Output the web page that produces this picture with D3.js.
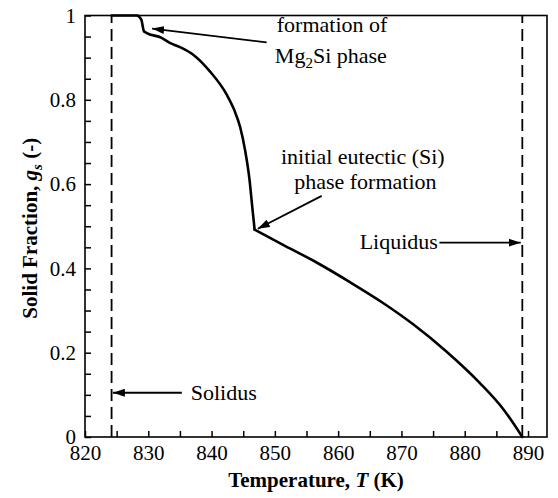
<!DOCTYPE html>
<html>
<head>
<meta charset="utf-8">
<script src="https://cdn.jsdelivr.net/npm/d3@7"></script>
<style>
  body { margin: 0; background: #fff; }
  svg text { font-family: "Liberation Serif", "Times New Roman", Times, serif; fill: #000; }
</style>
</head>
<body>
<div id="chart"></div>
<script>
// Solid fraction curve
const temperature = [824.2, 828.2, 828.9, 829.3, 829.7, 832.1, 833.4, 835.0, 837.1, 839.7,
  842.4, 843.6, 844.5, 845.3, 846.0, 846.4, 846.8, 851.3, 856.6, 861.8,
  867.1, 871.8, 877.1, 882.4, 886.1, 889.1];
const solidFraction = [1.0, 1.0, 0.99, 0.963, 0.959, 0.947, 0.935, 0.925, 0.907, 0.868,
  0.812, 0.775, 0.736, 0.68, 0.61, 0.55, 0.492, 0.456, 0.414, 0.368,
  0.318, 0.268, 0.203, 0.128, 0.066, 0.0];
// the eutectic kink, where the curve bends sharply
const kinkT = 846.8;

const solidusT = 824.2;
const liquidusT = 889.1;

const xTicks = [820, 830, 840, 850, 860, 870, 880, 890];
const xMinorTicks = [825, 835, 845, 855, 865, 875, 885];
const yTicks = [0, 0.2, 0.4, 0.6, 0.8, 1];
const yTickLabels = ["0", "0.2", "0.4", "0.6", "0.8", "1"];
const yMinorTicks = [0.05, 0.1, 0.15, 0.25, 0.3, 0.35, 0.45, 0.5, 0.55, 0.65, 0.7, 0.75, 0.85, 0.9, 0.95];

const FONT = "'Liberation Serif', 'Times New Roman', Times, serif";

const W = 558, H = 498;
const margin = { top: 15.5, right: 11, bottom: 61, left: 85 };
const width = W - margin.left - margin.right;
const height = H - margin.top - margin.bottom;

const svg = d3.select("#chart").append("svg")
  .attr("width", W).attr("height", H)
  .attr("font-family", FONT);

// arrow head
svg.append("defs").append("marker")
  .attr("id", "head")
  .attr("viewBox", "0 0 12 8")
  .attr("refX", 12).attr("refY", 4)
  .attr("markerWidth", 12).attr("markerHeight", 8)
  .attr("markerUnits", "userSpaceOnUse")
  .attr("orient", "auto")
  .append("path").attr("d", "M0,0 L12,4 L0,8 Z").attr("fill", "#000");

const g = svg.append("g").attr("transform", `translate(${margin.left},${margin.top})`);

const x = d3.scaleLinear().domain([820, 893]).range([0, width]);
const y = d3.scaleLinear().domain([0, 1]).range([height, 0]);

// axes, ticks pointing inwards
g.append("g").attr("transform", `translate(0,${height})`)
  .call(d3.axisBottom(x).tickValues(xTicks).tickSize(-6).tickPadding(8).tickFormat(d3.format("d")));
g.append("g").attr("transform", `translate(0,${height})`)
  .call(d3.axisBottom(x).tickValues(xMinorTicks).tickSize(-6).tickFormat(""));
g.append("g")
  .call(d3.axisLeft(y).tickValues(yTicks).tickSize(-6).tickPadding(9).tickFormat((d, i) => yTickLabels[i]));
g.append("g")
  .call(d3.axisLeft(y).tickValues(yMinorTicks).tickSize(-6).tickFormat(""));

g.selectAll(".domain").remove();
g.selectAll("g").attr("font-family", FONT).attr("font-size", 21);
g.selectAll(".tick line").attr("stroke", "#000").attr("stroke-width", 1.5);
g.selectAll(".tick text").attr("font-family", FONT).style("font-size", "21px");

// frame
g.append("rect")
  .attr("width", width).attr("height", height)
  .attr("fill", "none").attr("stroke", "#000").attr("stroke-width", 1.6);

// solidus / liquidus
[solidusT, liquidusT].forEach(t => {
  g.append("line")
    .attr("x1", x(t)).attr("x2", x(t))
    .attr("y1", y(0)).attr("y2", y(1))
    .attr("stroke", "#000").attr("stroke-width", 1.8)
    .attr("stroke-dasharray", "12,6");
});

// curve, split at the kink so the corner stays sharp
const pts = temperature.map((t, i) => [t, solidFraction[i]]);
const segments = [pts.filter(d => d[0] <= kinkT), pts.filter(d => d[0] >= kinkT)];
const line = d3.line().x(d => x(d[0])).y(d => y(d[1])).curve(d3.curveMonotoneX);
g.selectAll(".curve")
  .data(segments)
  .enter()
  .append("path")
  .attr("class", "curve")
  .attr("fill", "none").attr("stroke", "#000").attr("stroke-width", 2.6)
  .attr("stroke-linejoin", "round").attr("stroke-linecap", "round")
  .attr("d", line);

// annotations
function arrow(t1, g1, t2, g2) {
  g.append("line")
    .attr("x1", x(t1)).attr("y1", y(g1))
    .attr("x2", x(t2)).attr("y2", y(g2))
    .attr("stroke", "#000").attr("stroke-width", 1.8)
    .attr("marker-end", "url(#head)");
}
function label(t, gs, anchor) {
  return g.append("text")
    .attr("x", x(t)).attr("y", y(gs))
    .attr("text-anchor", anchor || "start")
    .attr("font-family", FONT)
    .style("font-size", "22px");
}

arrow(848.7, 0.936, 830.6, 0.969);
label(850.3, 0.96).text("formation of");
const mg = label(850.0, 0.888);
mg.append("tspan").text("Mg");
mg.append("tspan").attr("dy", 5).style("font-size", "15px").text("2");
mg.append("tspan").attr("dy", -5).text("Si  phase");

label(863.9, 0.648, "middle").text("initial eutectic (Si)");
label(864.3, 0.589, "middle").text("phase formation");
arrow(857.4, 0.572, 847.3, 0.494);

label(863.4, 0.447).text("Liquidus");
arrow(876.0, 0.461, 888.85, 0.461);

arrow(835.3, 0.105, 824.4, 0.105);
label(836.7, 0.088).text("Solidus");

// axis titles
const xt = svg.append("text")
  .attr("x", margin.left + width / 2).attr("y", 487)
  .attr("text-anchor", "middle")
  .attr("font-family", FONT)
  .style("font-size", "21px").style("font-weight", "bold");
xt.append("tspan").text("Temperature, ");
xt.append("tspan").style("font-style", "italic").text("T");
xt.append("tspan").text(" (K)");

const yt = svg.append("text")
  .attr("transform", `translate(37,${margin.top + height / 2 + 2}) rotate(-90)`)
  .attr("text-anchor", "middle")
  .attr("font-family", FONT)
  .style("font-size", "21px").style("font-weight", "bold");
yt.append("tspan").text("Solid Fraction, ");
yt.append("tspan").style("font-style", "italic").text("g");
yt.append("tspan").attr("dy", 5).style("font-style", "italic").style("font-size", "15px").text("s");
yt.append("tspan").attr("dy", -5).text(" (-)");
</script>
</body>
</html>
